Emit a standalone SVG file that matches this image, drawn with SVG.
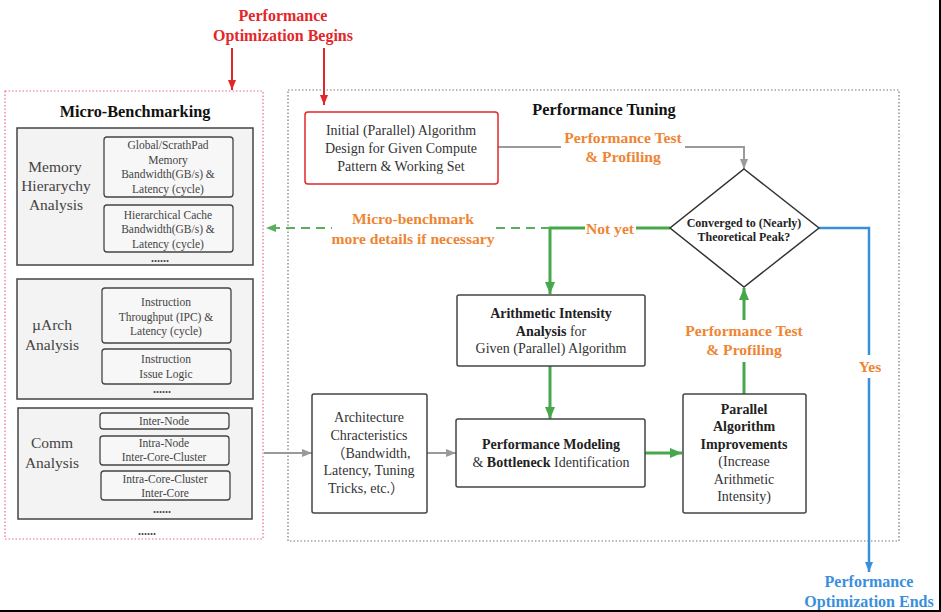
<svg xmlns="http://www.w3.org/2000/svg" width="941" height="612" viewBox="0 0 941 612">
<style>
  text { font-family: "Liberation Serif", "Noto Sans CJK SC", serif; text-anchor: middle; }
  .box { fill: #fff; stroke: #444; stroke-width: 1.5; }
  .grp { fill: #f3f3f3; stroke: #444; stroke-width: 1.5; }
  .inner { fill: #f7f7f7; stroke: #444; stroke-width: 1.3; }
  .t { font-size: 14px; fill: #333; }
  .s { font-size: 11.5px; fill: #444; }
  .big { font-size: 15.5px; fill: #444; }
  .title { font-size: 16.3px; font-weight: bold; fill: #111; }
  .b { font-weight: bold; fill: #222; }
  .or { font-size: 15.6px; font-weight: bold; fill: #ee8533; }
  .red { font-size: 16px; font-weight: bold; fill: #e3262a; }
  .blue { font-size: 16px; font-weight: bold; fill: #3a8fdc; }
  .dots { font-size: 12px; fill: #444; font-weight: bold; }
  .bg { fill: #fff; }
</style>
<defs>
  <marker id="ag" markerUnits="userSpaceOnUse" markerWidth="10" markerHeight="8" refX="10" refY="4" orient="auto"><path d="M0,0 L10,4 L0,8 z" fill="#9a9a9a"/></marker>
  <marker id="agr" markerUnits="userSpaceOnUse" markerWidth="12" markerHeight="10" refX="12" refY="5" orient="auto"><path d="M0,0 L12,5 L0,10 z" fill="#46a84a"/></marker>
  <marker id="agd" markerUnits="userSpaceOnUse" markerWidth="10" markerHeight="8" refX="10" refY="4" orient="auto"><path d="M0,0 L10,4 L0,8 z" fill="#5aae5e"/></marker>
  <marker id="ab" markerUnits="userSpaceOnUse" markerWidth="10" markerHeight="8" refX="10" refY="4" orient="auto"><path d="M0,0 L10,4 L0,8 z" fill="#3a8fdc"/></marker>
  <marker id="ar" markerUnits="userSpaceOnUse" markerWidth="10" markerHeight="8" refX="10" refY="4" orient="auto"><path d="M0,0 L10,4 L0,8 z" fill="#e3262a"/></marker>
</defs>

<!-- containers -->
<g id="micro-benchmarking">
  <rect x="5" y="91" width="258" height="448" fill="none" stroke="#e86a8a" stroke-width="1.2" stroke-dasharray="1.5,2"/>
  <text class="title" x="135" y="117">Micro-Benchmarking</text>
  <text class="dots" x="147" y="535">......</text>
</g>
<g id="performance-tuning">
  <rect x="288" y="90" width="611" height="451" fill="none" stroke="#777" stroke-width="1.2" stroke-dasharray="1.5,2"/>
  <text class="title" x="604" y="115">Performance Tuning</text>
</g>

<g id="memory-hierarchy">
  <rect class="grp" x="17" y="128" width="236" height="137"/>
  <text class="big" x="55" y="172">Memory</text>
  <text class="big" x="56" y="191">Hierarychy</text>
  <text class="big" x="56" y="210">Analysis</text>
  <g id="global-memory">
    <rect class="inner" x="104" y="137" width="129" height="60" rx="3"/>
    <text class="s" x="168" y="149">Global/ScrathPad</text>
    <text class="s" x="168" y="164">Memory</text>
    <text class="s" x="168" y="178">Bandwidth(GB/s) &amp;</text>
    <text class="s" x="168" y="193">Latency (cycle)</text>
  </g>
  <g id="hier-cache">
    <rect class="inner" x="104" y="205" width="129" height="47" rx="3"/>
    <text class="s" x="168" y="219">Hierarchical Cache</text>
    <text class="s" x="168" y="233">Bandwidth(GB/s) &amp;</text>
    <text class="s" x="168" y="248">Latency (cycle)</text>
  </g>
  <text class="dots" x="160" y="262">......</text>
</g>

<g id="uarch">
  <rect class="grp" x="17" y="279" width="236" height="120"/>
  <text class="big" x="52" y="330">µArch</text>
  <text class="big" x="52" y="350">Analysis</text>
  <g id="instr-throughput">
    <rect class="inner" x="102" y="288" width="129" height="55" rx="3"/>
    <text class="s" x="166" y="306">Instruction</text>
    <text class="s" x="166" y="321">Throughput (IPC) &amp;</text>
    <text class="s" x="166" y="335">Latency (cycle)</text>
  </g>
  <g id="instr-issue">
    <rect class="inner" x="102" y="349" width="129" height="35" rx="3"/>
    <text class="s" x="166" y="363">Instruction</text>
    <text class="s" x="166" y="378">Issue Logic</text>
  </g>
  <text class="dots" x="162" y="393">......</text>
</g>

<g id="comm">
  <rect class="grp" x="18" y="408" width="234" height="111"/>
  <text class="big" x="52" y="448">Comm</text>
  <text class="big" x="52" y="468">Analysis</text>
  <g id="inter-node">
    <rect class="inner" x="100" y="413" width="129" height="16" rx="3"/>
    <text class="s" x="164" y="425">Inter-Node</text>
  </g>
  <g id="intra-node">
    <rect class="inner" x="100" y="436" width="129" height="29" rx="3"/>
    <text class="s" x="164" y="447">Intra-Node</text>
    <text class="s" x="164" y="461">Inter-Core-Cluster</text>
  </g>
  <g id="intra-core-cluster">
    <rect class="inner" x="101" y="471" width="129" height="29" rx="3"/>
    <text class="s" x="165" y="483">Intra-Core-Cluster</text>
    <text class="s" x="165" y="497">Inter-Core</text>
  </g>
  <text class="dots" x="162" y="513">......</text>
</g>

<!-- connectors -->
<g id="connectors" fill="none">
  <path d="M232,48 V90" stroke="#e3262a" stroke-width="2" marker-end="url(#ar)"/>
  <path d="M324,48 V105" stroke="#e3262a" stroke-width="2" marker-end="url(#ar)"/>
  <path d="M498,147 H744 V169" stroke="#9a9a9a" stroke-width="2" marker-end="url(#ag)"/>
  <path d="M670,228 H550 V294" stroke="#46a84a" stroke-width="3" marker-end="url(#agr)"/>
  <path d="M550,228 H266" stroke="#5aae5e" stroke-width="2.2" stroke-dasharray="9,6" marker-end="url(#agd)"/>
  <path d="M550,366 V419" stroke="#46a84a" stroke-width="3" marker-end="url(#agr)"/>
  <path d="M264,453 H312" stroke="#9a9a9a" stroke-width="2" marker-end="url(#ag)"/>
  <path d="M427,453 H456" stroke="#9a9a9a" stroke-width="2" marker-end="url(#ag)"/>
  <path d="M645,453 H682" stroke="#46a84a" stroke-width="3" marker-end="url(#agr)"/>
  <path d="M744,394 V288" stroke="#46a84a" stroke-width="3" marker-end="url(#agr)"/>
  <path d="M819,228 H869 V572" stroke="#3a8fdc" stroke-width="2.5" marker-end="url(#ab)"/>
</g>

<!-- labels -->
<g id="labels">
  <text class="red" x="283" y="21">Performance</text>
  <text class="red" x="283" y="41">Optimization Begins</text>
  <rect class="bg" x="561" y="128" width="124" height="38"/>
  <text class="or" x="623" y="143">Performance Test</text>
  <text class="or" x="623" y="162">&amp; Profiling</text>
  <rect class="bg" x="585" y="218" width="51" height="22"/>
  <text class="or" x="610" y="234">Not yet</text>
  <rect class="bg" x="332" y="208" width="163" height="42"/>
  <text class="or" x="413" y="224">Micro-benchmark</text>
  <text class="or" x="413" y="244">more details if necessary</text>
  <rect class="bg" x="683" y="320" width="122" height="42"/>
  <text class="or" x="744" y="336">Performance Test</text>
  <text class="or" x="744" y="355">&amp; Profiling</text>
  <rect class="bg" x="855" y="355" width="28" height="23"/>
  <text class="or" x="870" y="372">Yes</text>
  <text class="blue" x="869" y="587">Performance</text>
  <text class="blue" x="869" y="607">Optimization Ends</text>
</g>

<g id="initial-design">
  <rect x="305" y="112" width="193" height="72" rx="3" fill="#fff" stroke="#e3262a" stroke-width="1.5"/>
  <text class="t" x="401" y="135">Initial (Parallel) Algorithm</text>
  <text class="t" x="401" y="153">Design for Given Compute</text>
  <text class="t" x="401" y="171">Pattern &amp; Working Set</text>
</g>

<g id="converged">
  <path d="M744,169 L819,228 L744,287 L670,228 Z" fill="#fff" stroke="#333" stroke-width="1.5"/>
  <text class="t b" x="744" y="227" style="font-size:12px">Converged to (Nearly)</text>
  <text class="t b" x="744" y="241" style="font-size:12px">Theoretical Peak?</text>
</g>

<g id="arith-intensity">
  <rect class="box" x="457" y="295" width="188" height="71" rx="2"/>
  <text class="t b" x="551" y="318">Arithmetic Intensity</text>
  <text class="t" x="551" y="336"><tspan class="b">Analysis</tspan> for</text>
  <text class="t" x="551" y="353">Given (Parallel) Algorithm</text>
</g>

<g id="perf-modeling">
  <rect class="box" x="456" y="419" width="189" height="68" rx="2"/>
  <text class="t b" x="551" y="449">Performance Modeling</text>
  <text class="t" x="551" y="467">&amp; <tspan class="b">Bottleneck</tspan> Identification</text>
</g>

<g id="architecture">
  <rect class="box" x="312" y="394" width="115" height="119" rx="2"/>
  <text class="t" x="369" y="422">Architecture</text>
  <text class="t" x="369" y="440">Chracteristics</text>
  <text class="t" x="371" y="458">（Bandwidth,</text>
  <text class="t" x="369" y="475">Latency, Tuning</text>
  <text class="t" x="366" y="493">Tricks, etc.）</text>
</g>

<g id="parallel-improvements">
  <rect class="box" x="683" y="394" width="123" height="119" rx="2"/>
  <text class="t b" x="744" y="414">Parallel</text>
  <text class="t b" x="744" y="431">Algorithm</text>
  <text class="t b" x="744" y="449">Improvements</text>
  <text class="t" x="744" y="466">(Increase</text>
  <text class="t" x="744" y="484">Arithmetic</text>
  <text class="t" x="744" y="501">Intensity)</text>
</g>

<path d="M940,0 V611 H0" fill="none" stroke="#000" stroke-width="2"/>
</svg>
